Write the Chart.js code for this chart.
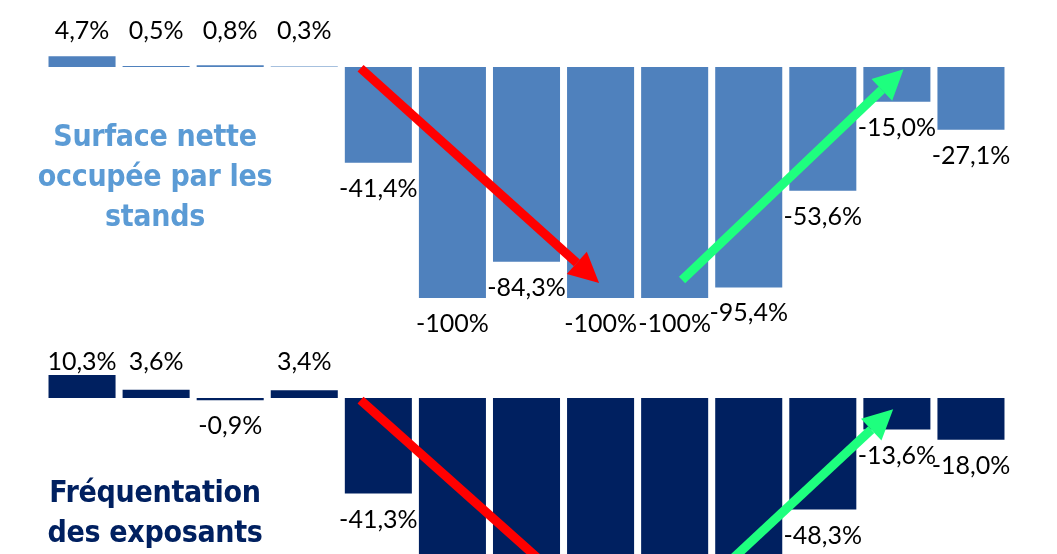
<!DOCTYPE html>
<html>
<head>
<meta charset="utf-8">
<script src="https://cdn.jsdelivr.net/npm/chart.js@4.4.1/dist/chart.umd.min.js"></script>
<style>
    html, body { margin: 0; padding: 0; background: #fff; overflow: hidden; }
    body { width: 1057px; height: 554px; position: relative; }
    .box { position: absolute; left: 0; width: 1057px; height: 340px; }
    .title {
        position: absolute; left: 5px; width: 300px; text-align: center;
        font-family: "DejaVu Sans Condensed", "DejaVu Sans", sans-serif; font-weight: bold;
        font-size: 30px; line-height: 40px; letter-spacing: -0.3px;
    }
</style>
</head>
<body>
<div class="box" style="top:0"><canvas id="chartSurface"></canvas></div>
<div class="box" style="top:340px"><canvas id="chartExposants"></canvas></div>
<div class="title" style="top:116px; color:#5B9BD5">Surface nette<br>occupée par les<br>stands</div>
<div class="title" style="top:472px; color:#002060">Fréquentation<br>des exposants</div>

<script>
// 13 périodes, pas de libellés visibles sur l'original
const categories = ['1', '2', '3', '4', '5', '6', '7', '8', '9', '10', '11', '12', '13'];
const surfaceValues = [4.7, 0.5, 0.8, 0.3, -41.4, -100, -84.3, -100, -100, -95.4, -53.6, -15.0, -27.1];
// les barres 6 à 10 sont coupées en bas de l'image : valeurs estimées
const exposantsValues = [10.3, 3.6, -0.9, 3.4, -41.3, -100, -90.0, -100, -100, -92.0, -48.3, -13.6, -18.0];

let chart1, chart2;

function fmt(v) {
    if (v === -100) return '-100%';
    return v.toFixed(1).replace('.', ',') + '%';
}

// valeurs au-dessus / en dessous des barres
const valueLabels = {
    id: 'valueLabels',
    afterDatasetsDraw(chart) {
        const ctx = chart.ctx;
        const meta = chart.getDatasetMeta(0);
        const y0 = chart.scales.y.getPixelForValue(0);
        ctx.save();
        ctx.font = '25px Lato, sans-serif';
        ctx.fillStyle = '#000';
        ctx.textAlign = 'center';
        ctx.textBaseline = 'middle';
        meta.data.forEach((bar, i) => {
            const v = chart.data.datasets[0].data[i];
            const y = v >= 0 ? y0 - 36 : bar.y + 26;
            ctx.fillText(fmt(v), bar.x, y);
        });
        ctx.restore();
    }
};

// flèches rouge / verte, extrémités en unités de données
const arrows = {
    id: 'arrows',
    afterDatasetsDraw(chart, args, opts) {
        const ctx = chart.ctx;
        const xs = chart.scales.x, ys = chart.scales.y;
        (opts.list || []).forEach(a => {
            const x1 = xs.getPixelForValue(a.from[0]), y1 = ys.getPixelForValue(a.from[1]);
            const x2 = xs.getPixelForValue(a.to[0]), y2 = ys.getPixelForValue(a.to[1]);
            const ang = Math.atan2(y2 - y1, x2 - x1);
            const head = 30, half = 15;
            const bx = x2 - head * Math.cos(ang), by = y2 - head * Math.sin(ang);
            ctx.save();
            ctx.strokeStyle = a.color;
            ctx.fillStyle = a.color;
            ctx.lineWidth = 9;
            ctx.beginPath();
            ctx.moveTo(x1, y1);
            ctx.lineTo(bx, by);
            ctx.stroke();
            ctx.beginPath();
            ctx.moveTo(x2, y2);
            ctx.lineTo(bx + half * Math.sin(ang), by - half * Math.cos(ang));
            ctx.lineTo(bx - half * Math.sin(ang), by + half * Math.cos(ang));
            ctx.closePath();
            ctx.fill();
            ctx.restore();
        });
    }
};

function makeChart(id, values, color, pad, arrowList) {
    const ctx = document.getElementById(id).getContext('2d');
    return new Chart(ctx, {
        type: 'bar',
        data: {
            labels: categories,
            datasets: [{
                data: values,
                backgroundColor: color,
                borderSkipped: false,
                barPercentage: 0.905,
                categoryPercentage: 1.0
            }]
        },
        options: {
            responsive: false,
            animation: false,
            layout: { padding: pad },
            plugins: {
                legend: { display: false },
                tooltip: { enabled: false },
                arrows: { list: arrowList }
            },
            scales: {
                x: { display: false },
                y: { display: false, min: -100, max: 10 }
            }
        },
        plugins: [valueLabels, arrows]
    });
}

document.addEventListener('DOMContentLoaded', function() {
    const c1 = document.getElementById('chartSurface');
    const c2 = document.getElementById('chartExposants');
    c1.width = 1057; c1.height = 340;
    c2.width = 1057; c2.height = 340;

    chart1 = makeChart('chartSurface', surfaceValues, '#4F81BD',
        { top: 44, bottom: 42, left: 45, right: 49 },
        [
            { from: [3.76, -0.5], to: [6.98, -93.5], color: '#FF0000' },
            { from: [8.1, -92.2], to: [11.09, -0.9], color: '#1EFF7E' }
        ]);

    chart2 = makeChart('chartExposants', exposantsValues, '#002060',
        { top: 35, bottom: 51, left: 45, right: 49 },
        [
            { from: [3.76, -0.9], to: [6.98, -93.0], color: '#FF0000' },
            { from: [8.1, -90.0], to: [10.95, -4.8], color: '#1EFF7E' }
        ]);
});
</script>
</body>
</html>
